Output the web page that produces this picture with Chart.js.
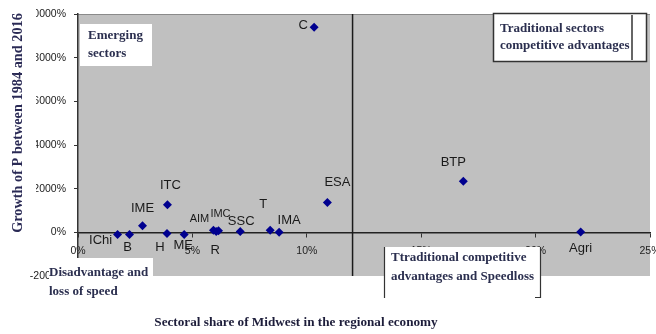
<!DOCTYPE html>
<html>
<head>
<meta charset="utf-8">
<script src="https://cdn.jsdelivr.net/npm/chart.js@4.4.0/dist/chart.umd.min.js"></script>
<style>
html,body{margin:0;padding:0;background:#fff;}
#wrap{width:656px;height:334px;position:relative;}
canvas{display:block;}
</style>
</head>
<body>
<div id="wrap"><canvas id="c" width="656" height="334"></canvas></div>
<script>
// ---- data ----
const sectors = ['IChi','B','IME','H','ITC','ME','AIM','R','IMC','SSC','T','IMA','C','ESA','BTP','Agri'];
const share   = [1.73, 2.25, 2.82, 3.89, 3.91, 4.64, 5.92, 6.04, 6.14, 7.09, 8.40, 8.79, 10.32, 10.90, 16.84, 21.97];
const growth  = [-100, -100, 300, -50, 1260, -100, 100, 40, 70, 40, 100, 0, 9390, 1370, 2340, 20];
const xTickValues = [0, 5, 10, 15, 20, 25];
const yTickValues = [-2000, 0, 2000, 4000, 6000, 8000, 10000];
const splitShare = 12;
const yTitle = 'Growth of P between 1984 and 2016';
const xTitle = 'Sectoral share of Midwest in the regional economy';
const noteEmerging = ['Emerging', 'sectors'];
const noteTraditional = ['Traditional sectors', 'competitive advantages'];
const noteSpeedloss = ['Ttraditional competitive', 'advantages and Speedloss'];
const noteDisadvantage = ['Disadvantage and', 'loss of speed'];

// label placement (offset of label centre from its point, px) and size
const labelStyle = {
  IChi:[-17,6,13], B:[-2,13,13], IME:[0,-17,13], H:[-7,14,13], ITC:[3,-19,13],
  ME:[-1,11,13], AIM:[-14,-11,11], R:[-1,19,13], IMC:[2,-17,11], SSC:[1,-10,13],
  T:[-7,-26,13], IMA:[10,-12,13], C:[-11,-2,13], ESA:[10,-20,13], BTP:[-10,-19,13], Agri:[0,17,13]
};

const serif = '"Liberation Serif","Times New Roman",serif';
const sans = '"Liberation Sans",Arial,sans-serif';

const decor = {
  id: 'decor',
  beforeDraw(chart) {
    const {ctx, chartArea: a} = chart;
    ctx.save();
    ctx.fillStyle = '#ffffff';
    ctx.fillRect(0, 0, chart.width, chart.height);
    ctx.fillStyle = '#c0c0c0';
    ctx.fillRect(a.left, a.top, a.right - a.left, a.bottom - a.top);
    ctx.strokeStyle = '#8a8a8a';
    ctx.lineWidth = 1;
    ctx.beginPath();
    ctx.moveTo(a.left, a.top + 0.5);
    ctx.lineTo(a.right, a.top + 0.5);
    ctx.stroke();
    ctx.restore();
  },
  afterDatasetsDraw(chart) {
    const ctx = chart.ctx;
    const meta = chart.getDatasetMeta(0);
    ctx.save();
    ctx.fillStyle = '#1a1a1a';
    ctx.textAlign = 'center';
    ctx.textBaseline = 'middle';
    meta.data.forEach((pt, i) => {
      const s = labelStyle[sectors[i]] || [0, -14, 13];
      ctx.font = s[2] + 'px ' + sans;
      ctx.fillText(sectors[i], pt.x + s[0], pt.y + s[1]);
    });
    ctx.restore();
  },
  afterDraw(chart) {
    const ctx = chart.ctx;
    ctx.save();
    // cover of the y title text box
    ctx.fillStyle = '#ffffff';
    ctx.fillRect(0, 0, 36, 252);
    // text boxes
    const textColor = '#2b2f4f';
    function lines(arr, x, y0, dy) {
      ctx.fillStyle = textColor;
      ctx.font = 'bold 13px ' + serif;
      ctx.textAlign = 'left';
      ctx.textBaseline = 'middle';
      arr.forEach((t, i) => ctx.fillText(t, x, y0 + i * dy));
    }
    ctx.fillStyle = '#ffffff';
    ctx.fillRect(80, 24, 72, 42);
    lines(noteEmerging, 88, 36, 18);

    ctx.fillStyle = '#ffffff';
    ctx.fillRect(493, 13, 154, 49);
    ctx.strokeStyle = '#333333';
    ctx.lineWidth = 1.5;
    ctx.strokeRect(493.5, 13.5, 153, 48);
    ctx.beginPath();
    ctx.moveTo(632, 15); ctx.lineTo(632, 60);
    ctx.stroke();
    lines(noteTraditional, 500, 29, 17);

    ctx.fillStyle = '#ffffff';
    ctx.fillRect(384, 247, 157, 51);
    ctx.strokeStyle = '#333333';
    ctx.lineWidth = 1.2;
    ctx.beginPath();
    ctx.moveTo(384.5, 247); ctx.lineTo(384.5, 298);
    ctx.moveTo(540.5, 247); ctx.lineTo(540.5, 298);
    ctx.moveTo(535, 297.5); ctx.lineTo(541, 297.5);
    ctx.stroke();
    lines(noteSpeedloss, 391, 258, 19);

    ctx.fillStyle = '#ffffff';
    ctx.fillRect(49, 258, 104, 44);
    lines(noteDisadvantage, 49, 273, 19);

    // axis titles
    ctx.fillStyle = '#2a2a55';
    ctx.font = 'bold 14.3px ' + serif;
    ctx.textAlign = 'center';
    ctx.textBaseline = 'middle';
    ctx.save();
    ctx.translate(18.5, 123);
    ctx.rotate(-Math.PI / 2);
    ctx.fillText(yTitle, 0, 0);
    ctx.restore();
    ctx.fillStyle = '#1d1d3a';
    ctx.font = 'bold 13.2px ' + serif;
    ctx.fillText(xTitle, 296, 323);
    ctx.restore();
  }
};

new Chart(document.getElementById('c'), {
  type: 'scatter',
  data: {
    datasets: [{
      data: sectors.map((s, i) => ({x: share[i], y: growth[i]})),
      pointStyle: 'rectRot',
      pointRadius: 4.5,
      pointHoverRadius: 4.5,
      backgroundColor: '#00008f',
      borderColor: '#00008f',
      borderWidth: 0
    }, {
      data: [{x: splitShare, y: yTickValues[0]}, {x: splitShare, y: yTickValues[yTickValues.length - 1]}],
      showLine: true,
      borderColor: '#1a1a1a',
      borderWidth: 1.5,
      pointRadius: 0,
      pointHoverRadius: 0
    }]
  },
  options: {
    responsive: false,
    animation: false,
    devicePixelRatio: 1,
    events: [],
    layout: {padding: {left: 0, top: 14, right: 6, bottom: 58}},
    plugins: {legend: {display: false}, tooltip: {enabled: false}},
    scales: {
      x: {
        type: 'linear',
        position: {y: 0},
        min: xTickValues[0],
        max: xTickValues[xTickValues.length - 1],
        afterBuildTicks: s => { s.ticks = xTickValues.map(v => ({value: v})); },
        afterFit: s => { s.paddingLeft = 0; s.paddingRight = 0; },
        ticks: {
          callback: v => v + '%',
          font: {family: sans, size: 10.5},
          color: '#222222',
          padding: 8,
          maxRotation: 0,
          autoSkip: false
        },
        grid: {drawOnChartArea: false, drawTicks: true, tickLength: 4, color: '#333333'},
        border: {display: true, color: '#222222', width: 1.5}
      },
      y: {
        type: 'linear',
        position: 'left',
        min: yTickValues[0],
        max: yTickValues[yTickValues.length - 1],
        afterBuildTicks: s => { s.ticks = yTickValues.map(v => ({value: v})); },
        afterFit: s => { s.width = 78; s.paddingTop = 0; s.paddingBottom = 0; },
        ticks: {
          callback: v => v + '%',
          font: {family: sans, size: 10.5},
          color: '#222222',
          padding: 8,
          autoSkip: false
        },
        grid: {drawOnChartArea: false, drawTicks: true, tickLength: 4, color: '#333333'},
        border: {display: true, color: '#333333', width: 1.5}
      }
    }
  },
  plugins: [decor]
});
</script>
</body>
</html>
